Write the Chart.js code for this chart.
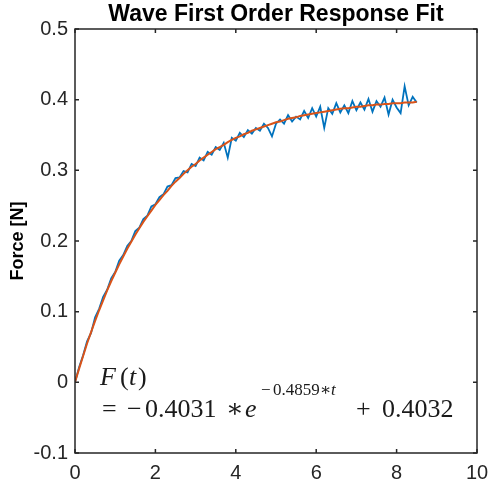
<!DOCTYPE html>
<html>
<head>
<meta charset="utf-8">
<script src="https://cdn.jsdelivr.net/npm/chart.js@4"></script>
<style>
  html, body { margin: 0; padding: 0; background: #fff; }
  #wrap { width: 489px; height: 484px; }
</style>
</head>
<body>
<div id="wrap"><canvas id="fit-chart"></canvas></div>
<script>
// time [s]
const times = [
  0.0, 0.1, 0.2, 0.3, 0.4, 0.5, 0.6, 0.7, 0.8, 0.9,
  1.0, 1.1, 1.2, 1.3, 1.4, 1.5, 1.6, 1.7, 1.8, 1.9,
  2.0, 2.1, 2.2, 2.3, 2.4, 2.5, 2.6, 2.7, 2.8, 2.9,
  3.0, 3.1, 3.2, 3.3, 3.4, 3.5, 3.6, 3.7, 3.8, 3.9,
  4.0, 4.1, 4.2, 4.3, 4.4, 4.5, 4.6, 4.7, 4.8, 4.9,
  5.0, 5.1, 5.2, 5.3, 5.4, 5.5, 5.6, 5.7, 5.8, 5.9,
  6.0, 6.1, 6.2, 6.3, 6.4, 6.5, 6.6, 6.7, 6.8, 6.9,
  7.0, 7.1, 7.2, 7.3, 7.4, 7.5, 7.6, 7.7, 7.8, 7.9,
  8.0, 8.1, 8.2, 8.3, 8.4, 8.5
];
// measured force [N]
const measured = [
  0.000, 0.021, 0.038, 0.058, 0.070, 0.092, 0.104, 0.121, 0.131, 0.147,
  0.156, 0.172, 0.180, 0.193, 0.200, 0.214, 0.219, 0.231, 0.236, 0.249,
  0.252, 0.262, 0.266, 0.277, 0.279, 0.289, 0.290, 0.299, 0.297, 0.309,
  0.306, 0.318, 0.314, 0.326, 0.322, 0.333, 0.329, 0.339, 0.318, 0.346,
  0.342, 0.353, 0.347, 0.357, 0.352, 0.360, 0.356, 0.366, 0.360, 0.348,
  0.366, 0.372, 0.366, 0.378, 0.369, 0.376, 0.372, 0.384, 0.374, 0.388,
  0.376, 0.390, 0.360, 0.388, 0.380, 0.395, 0.382, 0.392, 0.381, 0.398,
  0.385, 0.396, 0.386, 0.401, 0.383, 0.398, 0.390, 0.403, 0.379, 0.400,
  0.389, 0.381, 0.419, 0.392, 0.404, 0.396
];
// first order fit [N]
const fitted = [
  0.000, 0.019, 0.037, 0.055, 0.071, 0.087, 0.102, 0.116, 0.130, 0.143,
  0.155, 0.167, 0.178, 0.189, 0.199, 0.209, 0.218, 0.227, 0.235, 0.243,
  0.251, 0.258, 0.265, 0.271, 0.278, 0.284, 0.289, 0.295, 0.300, 0.305,
  0.309, 0.314, 0.318, 0.322, 0.326, 0.330, 0.333, 0.336, 0.340, 0.343,
  0.346, 0.348, 0.351, 0.353, 0.356, 0.358, 0.360, 0.362, 0.364, 0.366,
  0.368, 0.369, 0.371, 0.373, 0.374, 0.375, 0.377, 0.378, 0.379, 0.380,
  0.381, 0.382, 0.383, 0.384, 0.385, 0.386, 0.387, 0.388, 0.388, 0.389,
  0.390, 0.390, 0.391, 0.392, 0.392, 0.393, 0.393, 0.394, 0.394, 0.395,
  0.395, 0.395, 0.396, 0.396, 0.396, 0.397
];
const xTicks = [0, 2, 4, 6, 8, 10];
const yTicks = [-0.1, 0, 0.1, 0.2, 0.3, 0.4, 0.5];
const yTickLabels = ['-0.1', '0', '0.1', '0.2', '0.3', '0.4', '0.5'];

const axisColor = '#262626';
const sans = 'Arial, "Liberation Sans", sans-serif';
const serif = '"Liberation Serif", "DejaVu Serif", serif';
const tickFont = { family: sans, size: 20 };

// box with inward ticks, title and the fit equation
const matlabLook = {
  id: 'matlabLook',
  afterDraw(chart) {
    const { ctx, chartArea: a, scales } = chart;
    ctx.save();
    ctx.strokeStyle = axisColor;
    ctx.lineWidth = 1.5;
    ctx.strokeRect(a.left, a.top, a.right - a.left, a.bottom - a.top);
    ctx.beginPath();
    xTicks.forEach(v => {
      const px = scales.x.getPixelForValue(v);
      ctx.moveTo(px, a.bottom); ctx.lineTo(px, a.bottom - 4);
      ctx.moveTo(px, a.top); ctx.lineTo(px, a.top + 4);
    });
    yTicks.forEach(v => {
      const py = scales.y.getPixelForValue(v);
      ctx.moveTo(a.left, py); ctx.lineTo(a.left + 4, py);
      ctx.moveTo(a.right, py); ctx.lineTo(a.right - 4, py);
    });
    ctx.stroke();

    ctx.fillStyle = '#000';
    ctx.font = 'bold 23px ' + sans;
    ctx.textAlign = 'center';
    ctx.textBaseline = 'middle';
    ctx.fillText('Wave First Order Response Fit', (a.left + a.right) / 2, 15);

    // equation, pieces placed like the typeset original
    ctx.fillStyle = '#1a1a1a';
    ctx.textAlign = 'left';
    ctx.textBaseline = 'alphabetic';
    const big = '26px ' + serif, bigI = 'italic 26px ' + serif;
    const sm = '17px ' + serif, smI = 'italic 17px ' + serif;
    const pieces = [
      ['F', bigI, 100, 385], ['(', big, 120, 385], ['t', bigI, 129, 385], [')', big, 138, 385],
      ['=', big, 102, 417], ['\u2212', big, 127, 417], ['0.4031', big, 145, 417],
      ['\u2217', big, 226, 417], ['e', bigI, 245, 417],
      ['\u2212', sm, 261, 395], ['0.4859', sm, 273, 395], ['\u2217', sm, 320, 395], ['t', smI, 331, 395],
      ['+', big, 356, 417], ['0.4032', big, 382, 417]
    ];
    pieces.forEach(([t, f, x, y]) => { ctx.font = f; ctx.fillText(t, x, y); });
    ctx.restore();
  }
};

new Chart(document.getElementById('fit-chart'), {
  type: 'line',
  data: {
    datasets: [{
      label: 'Fit',
      data: times.map((t, i) => ({ x: t, y: fitted[i] })),
      borderColor: '#D95319',
      borderWidth: 2,
      pointRadius: 0,
      order: 0
    }, {
      label: 'Measured',
      data: times.map((t, i) => ({ x: t, y: measured[i] })),
      borderColor: '#0072BD',
      borderWidth: 1.8,
      pointRadius: 0,
      order: 1
    }]
  },
  options: {
    responsive: true,
    maintainAspectRatio: false,
    animation: false,
    layout: { padding: { top: 29, right: 12, left: 0, bottom: 0 } },
    plugins: { legend: { display: false }, tooltip: { enabled: false } },
    scales: {
      x: {
        type: 'linear', min: 0, max: 10,
        afterBuildTicks: s => { s.ticks = xTicks.map(v => ({ value: v })); },
        afterFit: s => { s.height = 31; s.paddingLeft = 0; s.paddingRight = 0; },
        grid: { display: false, drawTicks: false },
        border: { display: false },
        ticks: { color: axisColor, font: tickFont, padding: 8, maxRotation: 0 }
      },
      y: {
        type: 'linear', min: -0.1, max: 0.5,
        afterBuildTicks: s => { s.ticks = yTicks.map(v => ({ value: v })); },
        afterFit: s => { s.width = 75; s.paddingTop = 0; s.paddingBottom = 0; },
        grid: { display: false, drawTicks: false },
        border: { display: false },
        ticks: {
          color: axisColor, font: tickFont, padding: 7,
          callback: v => yTickLabels[yTicks.findIndex(t => Math.abs(t - v) < 1e-9)]
        },
        title: {
          display: true, text: 'Force [N]', color: '#000',
          font: { family: sans, size: 18, weight: 'bold' },
          padding: { top: 7, bottom: 0 }
        }
      }
    }
  },
  plugins: [matlabLook]
});
</script>
</body>
</html>
